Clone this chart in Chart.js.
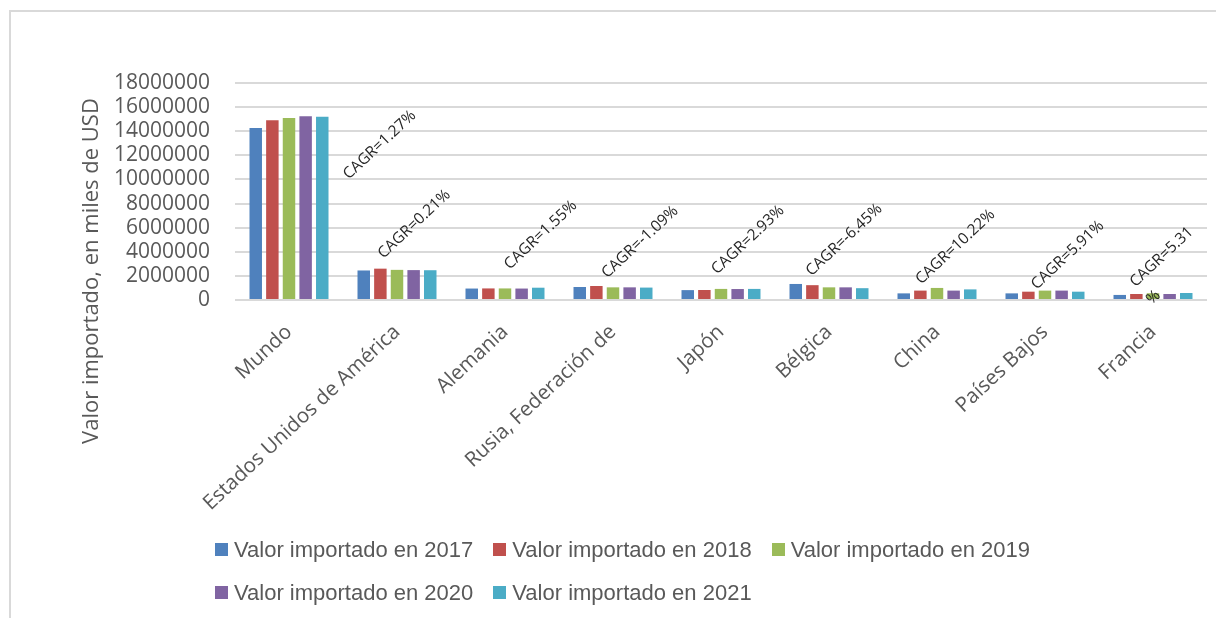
<!DOCTYPE html>
<html>
<head>
<meta charset="utf-8">
<script src="https://cdn.jsdelivr.net/npm/chart.js@4"></script>
<style>
  body { margin: 0; background: #fff; overflow: hidden; }
  #frame { position: absolute; left: 9px; top: 10px; width: 1220px; height: 620px;
           border-left: 2px solid #d9d9d9; border-top: 2px solid #d9d9d9; }
  #c { position: absolute; left: 0; top: 0; }
  #legend { position: absolute; left: 215px; top: 528px; font-family: "Liberation Sans", Arial, sans-serif;
            font-size: 22px; color: #595959; }
  .row { display: flex; height: 43px; align-items: center; white-space: nowrap; }
  .item { display: flex; align-items: center; margin-right: 20px; }
  .box { width: 13px; height: 13px; margin-right: 6px; }
</style>
</head>
<body>
<div id="frame"></div>
<canvas id="c" width="1216" height="618"></canvas>
<div id="legend"></div>
<script>
const categories = ["Mundo", "Estados Unidos de América", "Alemania", "Rusia, Federación de", "Japón",
  "Bélgica", "China", "Países Bajos", "Francia"];
const seriesNames = ["Valor importado en 2017", "Valor importado en 2018", "Valor importado en 2019",
  "Valor importado en 2020", "Valor importado en 2021"];
const v2017 = [14270000, 2450000, 950000, 1080000, 820000, 1330000, 550000, 550000, 420000];
const v2018 = [14900000, 2600000, 960000, 1160000, 830000, 1230000, 780000, 690000, 500000];
const v2019 = [15100000, 2500000, 960000, 1050000, 920000, 1050000, 1000000, 780000, 560000];
const v2020 = [15240000, 2480000, 950000, 1050000, 910000, 1050000, 780000, 780000, 500000];
const v2021 = [15200000, 2470000, 1020000, 1030000, 920000, 980000, 880000, 690000, 580000];
const cagr = ["1.27%", "0.21%", "1.55%", "-1.09%", "2.93%", "-6.45%", "10.22%", "5.91%", "5.31%"];
const yMax = 18000000;
const yStep = 2000000;

const colors = ["#4F81BD", "#C0504D", "#9BBB59", "#8064A2", "#4BACC6"];
const values = [v2017, v2018, v2019, v2020, v2021];

// where each CAGR note sits: x shift in category widths, y in axis units
const noteDx = [0.84, 0.16, 0.33, 0.25, 0.25, 0.14, 0.17, 0.21, 0.08];
const noteY = [12860000, 6300000, 5390000, 4810000, 4980000, 4980000, 4400000, 3730000, 3570000];

const cagrNotes = {
  id: "cagrNotes",
  afterDatasetsDraw(chart) {
    const { ctx, scales: { x, y } } = chart;
    const step = x.width / categories.length;
    ctx.save();
    ctx.font = '15.5px "Open Sans"';
    ctx.fillStyle = "#262626";
    ctx.textBaseline = "middle";
    ctx.textAlign = "left";
    cagr.forEach((c, i) => {
      // Francia's note wraps before the % sign in the original
      const lines = i === 8 ? ["CAGR=" + c.slice(0, -1), "%"] : ["CAGR=" + c];
      const w0 = ctx.measureText(lines[0]).width;
      ctx.save();
      ctx.translate(x.getPixelForValue(i) + noteDx[i] * step, y.getPixelForValue(noteY[i]));
      ctx.rotate(-43 * Math.PI / 180);
      lines.forEach((t, k) => ctx.fillText(t, -w0 / 2, k * 24));
      ctx.restore();
    });
    ctx.restore();

    // y axis title
    ctx.save();
    ctx.font = '22px "Open Sans"';
    ctx.fillStyle = "#595959";
    ctx.textAlign = "center";
    ctx.textBaseline = "middle";
    ctx.translate(92, 271);
    ctx.rotate(-Math.PI / 2);
    ctx.fillText("Valor importado, en miles de USD", 0, 0);
    ctx.restore();
  }
};

new Chart(document.getElementById("c"), {
  type: "bar",
  data: {
    labels: categories,
    datasets: values.map((v, i) => ({
      label: seriesNames[i],
      data: v,
      backgroundColor: colors[i],
      barPercentage: 0.75,
      categoryPercentage: 0.77
    }))
  },
  options: {
    responsive: false,
    animation: false,
    devicePixelRatio: 1,
    layout: { padding: { top: 83, right: 9, left: 0, bottom: 0 } },
    plugins: { legend: { display: false }, tooltip: { enabled: false } },
    scales: {
      x: {
        grid: { display: false, drawTicks: false },
        border: { display: false },
        ticks: {
          color: "#595959", font: { family: "Open Sans", size: 20.5 },
          maxRotation: 43, minRotation: 43, autoSkip: false, padding: 20
        },
        afterFit(s) { s.height = 318; }
      },
      y: {
        min: 0, max: yMax,
        grid: { color: "#d9d9d9", lineWidth: 2, drawTicks: false },
        border: { display: false },
        ticks: {
          stepSize: yStep, autoSkip: false, color: "#595959", font: { family: "Open Sans", size: 21 },
          padding: 25, callback: v => String(v)
        },
        afterFit(s) { s.width = 235; }
      }
    }
  },
  plugins: [cagrNotes]
});

// legend: three items on the first row, two on the second
const legend = document.getElementById("legend");
[[0, 1, 2], [3, 4]].forEach(row => {
  const r = document.createElement("div");
  r.className = "row";
  row.forEach(i => {
    const it = document.createElement("div");
    it.className = "item";
    it.innerHTML = `<span class="box" style="background:${colors[i]}"></span><span>${seriesNames[i]}</span>`;
    r.appendChild(it);
  });
  legend.appendChild(r);
});
</script>
</body>
</html>
